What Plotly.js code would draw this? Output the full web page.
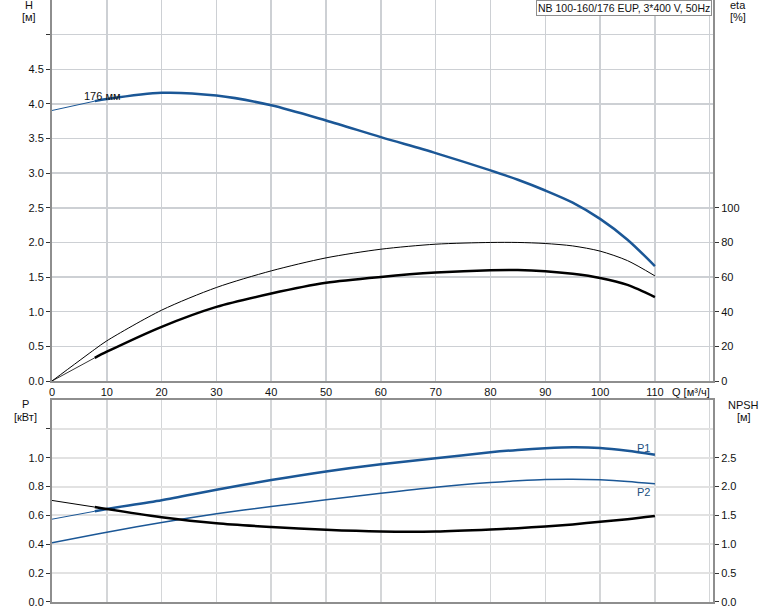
<!DOCTYPE html>
<html>
<head>
<meta charset="utf-8">
<script src="https://cdn.plot.ly/plotly-3.0.1.min.js"></script>
<style>html,body{margin:0;padding:0;background:#fff}#chart{width:774px;height:611px}</style>
</head>
<body>
<div id="chart"></div>
<script>
// ---- data ----
const qTop = [0, 7.8, 10, 20, 30, 40, 50, 60, 70, 80, 85, 90, 95, 100, 105, 110];
const headH = [3.905, 4.04, 4.07, 4.16, 4.12, 3.98, 3.76, 3.52, 3.29, 3.04, 2.905, 2.75, 2.575, 2.34, 2.04, 1.66];
const etaPump = [0, 18.3, 23.2, 40.9, 54.0, 63.6, 71.1, 76.1, 79.0, 80.0, 80.0, 79.4, 78.0, 75.0, 69.5, 60.7];
const etaTotal = [0, 13.4, 16.9, 31.3, 42.8, 50.5, 56.7, 60.1, 62.6, 64.0, 64.1, 63.4, 61.9, 59.5, 55.5, 48.5];

const qBot = [0, 7.8, 10, 20, 30, 40, 50, 60, 70, 80, 85, 90, 95, 100, 105, 110];
const powerP1 = [0.574, 0.629, 0.645, 0.705, 0.778, 0.845, 0.905, 0.955, 0.996, 1.038, 1.054, 1.066, 1.073, 1.068, 1.048, 1.020];
const powerP2 = [0.410, 0.468, 0.484, 0.551, 0.611, 0.662, 0.708, 0.754, 0.796, 0.828, 0.840, 0.849, 0.851, 0.847, 0.836, 0.819];
const npsh = [1.76, 1.645, 1.61, 1.47, 1.365, 1.30, 1.25, 1.22, 1.22, 1.255, 1.28, 1.31, 1.345, 1.39, 1.435, 1.49];

const xTicks = [0, 10, 20, 30, 40, 50, 60, 70, 80, 90, 100, 110, 120];
const xTickText = ['0', '10', '20', '30', '40', '50', '60', '70', '80', '90', '100', '110', ''];
const hTicks = [0, 0.5, 1, 1.5, 2, 2.5, 3, 3.5, 4, 4.5, 5];
const hTickText = ['0.0', '0.5', '1.0', '1.5', '2.0', '2.5', '3.0', '3.5', '4.0', '4.5', ''];
const etaTicks = [0, 20, 40, 60, 80, 100];
const pTicks = [0, 0.2, 0.4, 0.6, 0.8, 1.0, 1.2];
const pTickText = ['0.0', '0.2', '0.4', '0.6', '0.8', '1.0', ''];
const npshTicks = [0, 0.5, 1, 1.5, 2, 2.5];
const npshTickText = ['0.0', '0.5', '1.0', '1.5', '2.0', '2.5'];

const titleText = 'NB 100-160/176 EUP, 3*400 V, 50Hz';
const curveLabel = '176 мм';

// ---- styling ----
const BLUE = '#1b5796';
const FONT = 'Liberation Sans, Arial, sans-serif';
const seg = (arr, a, b) => arr.slice(a, b);
const SPL = {shape: 'spline', smoothing: 0.8};

const traces = [
  {x: seg(qTop,0,2), y: seg(headH,0,2), xaxis:'x', yaxis:'y', mode:'lines', line:{color:BLUE, width:1}},
  {x: seg(qTop,1), y: seg(headH,1), xaxis:'x', yaxis:'y', mode:'lines', line:Object.assign({color:BLUE, width:2.5}, SPL)},
  {x: qTop, y: etaPump, xaxis:'x', yaxis:'y2', mode:'lines', line:Object.assign({color:'#000', width:1}, SPL)},
  {x: seg(qTop,0,2), y: seg(etaTotal,0,2), xaxis:'x', yaxis:'y2', mode:'lines', line:{color:'#000', width:0.8}},
  {x: seg(qTop,1), y: seg(etaTotal,1), xaxis:'x', yaxis:'y2', mode:'lines', line:Object.assign({color:'#000', width:2.5}, SPL)},
  {x: seg(qBot,0,2), y: seg(powerP1,0,2), xaxis:'x2', yaxis:'y3', mode:'lines', line:{color:BLUE, width:1}},
  {x: seg(qBot,1), y: seg(powerP1,1), xaxis:'x2', yaxis:'y3', mode:'lines', line:Object.assign({color:BLUE, width:2.5}, SPL)},
  {x: qBot, y: powerP2, xaxis:'x2', yaxis:'y3', mode:'lines', line:Object.assign({color:BLUE, width:1.5}, SPL)},
  {x: seg(qBot,0,2), y: seg(npsh,0,2), xaxis:'x2', yaxis:'y4', mode:'lines', line:{color:'#000', width:1}},
  {x: seg(qBot,1), y: seg(npsh,1), xaxis:'x2', yaxis:'y4', mode:'lines', line:Object.assign({color:'#000', width:2.5}, SPL)}
];

const gridTop = '#cdd0d4';
const axisLine = '#8e8e8e';
const tickFont = {family: FONT, size: 11, color: '#111'};
const txt = (text, px, py, anchor) => ({text: text, xref: 'paper', yref: 'paper', x: (px - 52) / 661, y: (602 - py) / 602,
  xanchor: anchor || 'center', yanchor: 'middle', showarrow: false, font: {family: FONT, size: 11, color: '#111'}});

const layout = {
  width: 774, height: 611,
  margin: {l: 52, r: 61, t: 0, b: 9, pad: 0},
  paper_bgcolor: '#fff', plot_bgcolor: '#fff',
  showlegend: false,
  hovermode: false,
  font: {family: FONT, size: 11, color: '#111'},
  xaxis: {
    domain: [0, 1], anchor: 'y', range: [0, 120.6],
    tickmode: 'array', tickvals: xTicks, ticktext: xTickText,
    showgrid: true, gridcolor: gridTop, gridwidth: 1.5,
    showline: true, linecolor: axisLine, linewidth: 2,
    ticks: '', tickfont: tickFont, zeroline: false
  },
  yaxis: {
    domain: [0.3671, 1], anchor: 'x', range: [0, 5.5],
    tickmode: 'array', tickvals: hTicks, ticktext: hTickText,
    showgrid: true, gridcolor: gridTop, gridwidth: 1.5,
    showline: true, linecolor: axisLine, linewidth: 2,
    ticks: 'outside', ticklen: 4, tickcolor: '#333', tickwidth: 1,
    tickfont: tickFont, zeroline: false
  },
  yaxis2: {
    overlaying: 'y', side: 'right', anchor: 'x', range: [0, 220],
    tickmode: 'array', tickvals: etaTicks,
    showgrid: false, showline: true, linecolor: axisLine, linewidth: 2,
    ticks: 'outside', ticklen: 4, tickcolor: '#333', tickwidth: 1,
    tickfont: tickFont, zeroline: false
  },
  xaxis2: {
    domain: [0, 1], anchor: 'y3', range: [0, 120.6],
    tickmode: 'array', tickvals: xTicks, showticklabels: false,
    showgrid: true, gridcolor: '#d4d6d8', gridwidth: 1.5,
    showline: true, mirror: true, linecolor: axisLine, linewidth: 2,
    ticks: '', zeroline: false
  },
  yaxis3: {
    domain: [0, 0.3355], anchor: 'x2', range: [0, 1.4],
    tickmode: 'array', tickvals: pTicks, ticktext: pTickText,
    showgrid: true, gridcolor: '#e2e2e2', gridwidth: 2,
    showline: true, linecolor: axisLine, linewidth: 2,
    ticks: 'outside', ticklen: 4, tickcolor: '#333', tickwidth: 1,
    tickfont: tickFont, zeroline: false
  },
  yaxis4: {
    overlaying: 'y3', side: 'right', anchor: 'x2', range: [0, 3.5],
    tickmode: 'array', tickvals: npshTicks, ticktext: npshTickText,
    showgrid: false, showline: true, linecolor: axisLine, linewidth: 2,
    ticks: 'outside', ticklen: 4, tickcolor: '#333', tickwidth: 1,
    tickfont: tickFont, zeroline: false
  },
  annotations: [
    {text: titleText, xref: 'paper', yref: 'paper', x: (712 - 52) / 661, y: 1, xanchor: 'right', yanchor: 'top',
     showarrow: false, bgcolor: '#fff', bordercolor: '#8e8e8e', borderwidth: 1, borderpad: 1,
     font: {family: FONT, size: 10.5, color: '#111'}},
    txt('H', 29, 5), txt('[м]', 29, 17),
    txt('eta', 738, 5), txt('[%]', 738, 17),
    txt('P', 25, 404), txt('[кВт]', 25, 417),
    txt('NPSH', 743.5, 405), txt('[м]', 743.5, 417),
    txt('Q [м³/ч]', 712, 392, 'right'),
    {text: curveLabel, xref: 'x', yref: 'y', x: 9.3, y: 4.12, xanchor: 'center', yanchor: 'middle', showarrow: false, font: {family: FONT, size: 11, color: '#111'}},
    {text: 'P1', xref: 'x2', yref: 'y3', x: 109.5, y: 1.068, xanchor: 'right', yanchor: 'middle', showarrow: false, font: {family: FONT, size: 11, color: '#1b4f80'}},
    {text: 'P2', xref: 'x2', yref: 'y3', x: 109.5, y: 0.763, xanchor: 'right', yanchor: 'middle', showarrow: false, font: {family: FONT, size: 11, color: '#1b4f80'}}
  ]
};

Plotly.newPlot('chart', traces, layout, {staticPlot: true, displayModeBar: false});
</script>
</body>
</html>
